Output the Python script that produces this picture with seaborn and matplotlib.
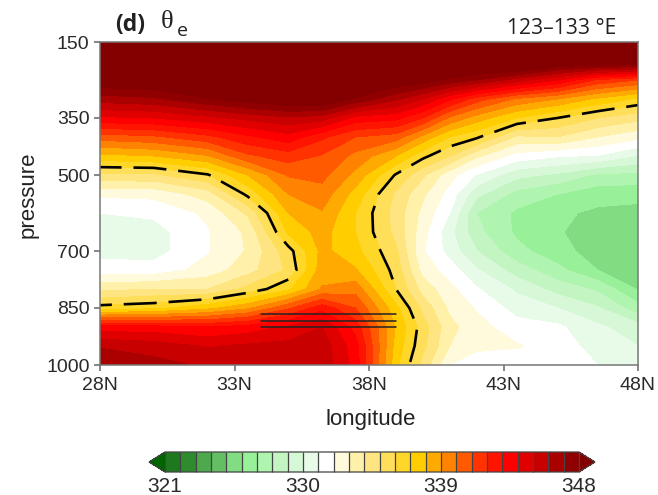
import numpy as np
import matplotlib
matplotlib.use('Agg')
import matplotlib.pyplot as plt
import seaborn as sns

# pressure levels (hPa) and latitudes of the columns below
pressure = [150, 200, 250, 300, 350, 400, 450, 500, 550, 600, 650, 700, 750, 800, 850, 900, 950, 1000]
lats = [28, 30, 32, 33.5, 35, 36.25, 37.5, 39, 40, 41, 42, 43.5, 45, 46.5, 48]

# theta-e (K) by column, top of the section to the surface
c28 = [356, 352, 349, 346.5, 343.8, 340.5, 337.7, 334.8, 332.2, 331, 330.7, 330.6, 331.5, 333.7, 336.4, 343.4, 345.9, 346.8]
c30 = [356, 352, 349.2, 346.8, 344, 340.8, 338, 334.8, 332.3, 331.2, 330.6, 330.6, 331.4, 334, 336.7, 343.4, 345.5, 346.4]
c32 = [356, 352, 350, 347.9, 344.7, 341.7, 338.9, 335.9, 333.5, 332.2, 331.9, 331.9, 332.4, 334, 337.7, 343, 344.9, 345.8]
c335 = [356, 352, 350, 348.6, 345.3, 342.8, 340.8, 338, 336.3, 334.2, 333.2, 333.1, 333.6, 335.3, 338.8, 343.4, 345.2, 345.8]
c35 = [356, 352, 350, 349.2, 345.8, 343.6, 341.5, 340.1, 339, 338, 337.2, 335.6, 335.2, 336.8, 340.8, 344.2, 345.3, 345.7]
c3625 = [356, 352, 350, 349.3, 345.5, 342.2, 340.9, 340.3, 339.6, 338.9, 338.4, 338.3, 338.5, 339.1, 342.6, 345, 345.6, 345.7]
c375 = [356, 352, 350, 347.8, 343.6, 341, 339.7, 338.7, 337.6, 337, 337, 337.3, 338.1, 339.6, 341, 342.6, 343.4, 343.6]
c39 = [355, 351, 349, 346.2, 343.3, 340.5, 338, 335.9, 334.8, 334.6, 334.7, 335.2, 335.6, 336, 337.3, 337.9, 337.6, 337.3]
c40 = [355, 351, 348.6, 345, 342, 338.7, 336.3, 334.2, 333.2, 332.7, 332.4, 332.1, 332.6, 333.6, 334.7, 335.5, 335.3, 334.7]
c41 = [354.5, 351, 347.7, 343.2, 339.8, 337, 335, 332.4, 331.6, 331, 330.3, 330.6, 331.5, 332.3, 332.8, 333.3, 333, 332]
c42 = [354, 350.5, 347, 341.5, 338.5, 336.2, 333.2, 330.9, 329.3, 328, 328.3, 329, 330.1, 331.1, 331.9, 332.4, 332.2, 331.5]
c435 = [356, 351, 345.5, 339.8, 337, 333.8, 331.6, 329.3, 327.6, 326.8, 326.8, 327.3, 328.5, 329.8, 330.6, 331.4, 332.1, 331.3]
c45 = [356, 349.7, 344, 339, 336, 334, 331.1, 328.8, 327, 326.2, 326.1, 326.4, 327.3, 328.6, 330, 331.2, 331.5, 331.4]
c465 = [356, 349.7, 341.8, 337.8, 335, 333, 330.9, 327.8, 326.4, 325.8, 325.5, 325.5, 326, 327.8, 329.1, 330.2, 330.6, 331]
c48 = [356, 349.5, 341, 336.8, 334.3, 332.3, 329.9, 327.7, 326.3, 325.7, 325.5, 325.5, 325.7, 325.9, 327.4, 329.4, 330, 330]

levels = list(range(321, 349))
colors = [
    (0, 100, 0), (30, 120, 30), (46, 139, 46), (76, 170, 76), (100, 190, 100),
    (130, 220, 130), (152, 240, 152), (175, 245, 175), (195, 245, 195), (215, 248, 215),
    (232, 250, 232), (255, 255, 255), (255, 250, 220), (255, 240, 170), (255, 228, 130),
    (255, 222, 90), (255, 215, 40), (255, 205, 0), (255, 170, 0), (255, 130, 0),
    (255, 90, 0), (255, 50, 0), (255, 20, 0), (255, 0, 0), (225, 0, 0),
    (200, 0, 0), (170, 0, 0), (145, 0, 0), (132, 0, 0),
]
colors = [(r / 255, g / 255, b / 255) for r, g, b in colors]

# black bars over the warm nose
bar_pressure = [866, 883, 900]
bar_lat = [34, 39]

sns.set_theme(style='ticks', font='Liberation Sans')

theta = np.column_stack([c28, c30, c32, c335, c35, c3625, c375, c39, c40, c41, c42, c435, c45, c465, c48])

W, H = 658, 495
fig = plt.figure(figsize=(W / 100, H / 100), dpi=100)
ax = fig.add_axes([100 / W, 1 - 365 / H, 538 / W, 323 / H])

cf = ax.contourf(lats, pressure, theta, levels=levels, colors=colors, extend='both')
ax.contour(lats, pressure, theta, levels=[336], colors='black', linewidths=1.9,
           linestyles=[(8, (12.5, 4.5))])
for p in bar_pressure:
    ax.plot(bar_lat, [p, p], color='#222222', lw=1.1)

ax.set_xlim(28, 48)
ax.set_ylim(1000, 150)
ax.set_xticks([28, 33, 38, 43, 48], ['28N', '33N', '38N', '43N', '48N'])
ax.set_yticks([150, 350, 500, 700, 850, 1000], ['150', '350', '500', '700', '850', '1000'])
ax.tick_params(axis='both', length=4, width=1.1, color='#666666', labelsize=14,
               labelcolor='#2a2a2a')
ax.tick_params(axis='x', pad=4.5)
ax.tick_params(axis='y', pad=3.5)
for s in ax.spines.values():
    s.set_visible(True)
    s.set_color('#777777')
    s.set_linewidth(1.1)

fig.text(28 / W, 1 - 195 / H, 'pressure', rotation=90, ha='center', va='center', fontsize=16, color='#222222')
fig.text(371 / W, 1 - 420 / H, 'longitude', ha='center', va='center', fontsize=16, color='#222222')
fig.text(115 / W, 1 - 25 / H, '(d)', ha='left', va='center', fontsize=16.5, fontweight='bold',
         family='Open Sans', color='#222222')
fig.text(161 / W, 1 - 22 / H, 'θ', ha='left', va='center', fontsize=19, family='Liberation Serif', color='#222222')
fig.text(177 / W, 1 - 31 / H, 'e', ha='left', va='center', fontsize=14, family='Open Sans', color='#222222')
fig.text(507 / W, 1 - 28 / H, '123–133 °E', ha='left', va='center', fontsize=15.2, family='Open Sans', color='#222222')

# the tips sit inside the axes, so it runs from tip to tip
cax = fig.add_axes([149 / W, 1 - 472 / H, 446 / W, 20 / H])
cb = fig.colorbar(cf, cax=cax, orientation='horizontal', extendfrac=16 / 413, drawedges=True)
cb.set_ticks([321, 330, 339, 348])
cb.ax.tick_params(length=0, labelsize=15, pad=3.5, labelcolor='#2a2a2a')
cb.dividers.set_color('#444444')
cb.dividers.set_linewidth(0.9)
cb.outline.set_edgecolor('#444444')
cb.outline.set_linewidth(0.9)

fig.savefig('out.png', dpi=100)
